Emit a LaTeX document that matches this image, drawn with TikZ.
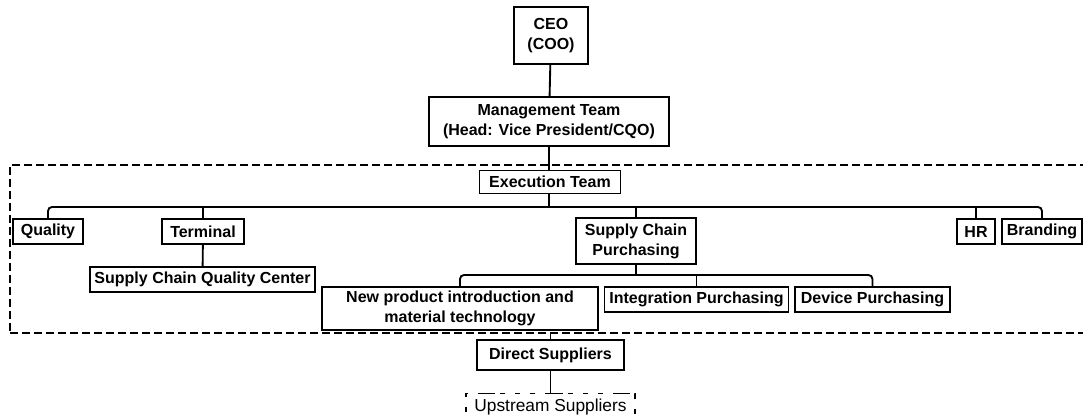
\documentclass[tikz,border=0pt]{standalone}
\usepackage{fontspec}
\setmainfont{Liberation Sans}
\usetikzlibrary{positioning}

\begin{document}
\begin{tikzpicture}[
        x=0.75pt, y=-0.75pt,
        unit/.style={rectangle, draw, line width=1.4pt, inner sep=1pt, align=center, font=\bfseries\fontsize{12}{15}\selectfont, minimum height=18.75pt},
        link/.style={line width=1.4pt},
        bus/.style={line width=1.4pt, rounded corners=3pt},
        teambox/.style={rectangle, draw, line width=1.4pt, dash pattern=on 6pt off 3pt, minimum width=813.75pt, minimum height=126pt},
        outside/.style={rectangle, draw, line width=1.4pt, dash pattern=on 13pt off 7.5pt on 3.75pt off 7.5pt on 3.75pt off 7.5pt on 3.75pt off 3.75pt, inner sep=1pt, font=\fontsize{13}{15}\selectfont, minimum width=126.75pt, minimum height=21pt}
    ]
        \useasboundingbox (0,0) rectangle (1083,419);
        \clip (0,0) rectangle (1083,419);

        % Top of the organisation
        \node[unit, minimum width=55.5pt, minimum height=42.75pt] (ceo) at (551,35.5) {CEO\\(COO)};
        \node[unit, minimum width=180pt, minimum height=36.75pt] (mgmt) at (549,121.5) {Management Team\\(Head: Vice President/CQO)};

        % Execution team area
        \node[teambox] (team) at (552.5,249) {};
        \node[unit, minimum width=105.75pt, minimum height=17.25pt] (exec) at (550,182) {Execution Team};
        \coordinate (bus) at (549,207);

        \node[unit, minimum width=52.5pt] (quality) at (48,231.5) {Quality};
        \node[unit, minimum width=61.5pt] (terminal) at (203,231.5) {Terminal};
        \node[unit, minimum width=90pt, minimum height=34.5pt] (scp) at (636,241) {Supply Chain\\Purchasing};
        \node[unit, minimum width=28.5pt] (hr) at (976,231.5) {HR};
        \node[unit, minimum width=60pt] (branding) at (1042,231.5) {Branding};

        \node[unit, minimum width=168.75pt] (scqc) at (202.5,279.5) {Supply Chain Quality Center};

        % Purchasing branches
        \coordinate (sub) at (636,275);
        \node[unit, minimum width=207pt, minimum height=32.25pt] (npi) at (460,308.5) {New product introduction and\\material technology};
        \node[unit, minimum width=138pt] (integ) at (696.5,299.5) {Integration Purchasing};
        \node[unit, minimum width=116.25pt] (device) at (872.5,299.5) {Device Purchasing};

        % Suppliers
        \node[unit, minimum width=110.25pt, minimum height=22.5pt] (direct) at (550.5,355) {Direct Suppliers};
        \node[outside] (upstream) at (550.5,407.5) {Upstream Suppliers};

        % Connectors
        \draw[link] (ceo) -- (mgmt);
        \draw[link] (mgmt.south) -- (exec.north -| mgmt.south);
        \draw[link] (exec.south -| bus) -- (bus);
        \draw[bus] (quality.north) |- (bus) -| (branding.north);
        \draw[link] (terminal.north) -- (terminal.north |- bus);
        \draw[link] (scp.north) -- (scp.north |- bus);
        \draw[link] (hr.north) -- (hr.north |- bus);
        \draw[link] (terminal) -- (scqc);

        \draw[link] (scp.south) -- (sub);
        \draw[bus] (npi.north) |- (sub) -| (device.north);
        \draw[link] (integ.north) -- (integ.north |- sub);

        \draw[link] (team.south -| direct.north) -- (direct.north);
        \draw[link] (direct) -- (upstream);

    \end{tikzpicture}
\end{document}
